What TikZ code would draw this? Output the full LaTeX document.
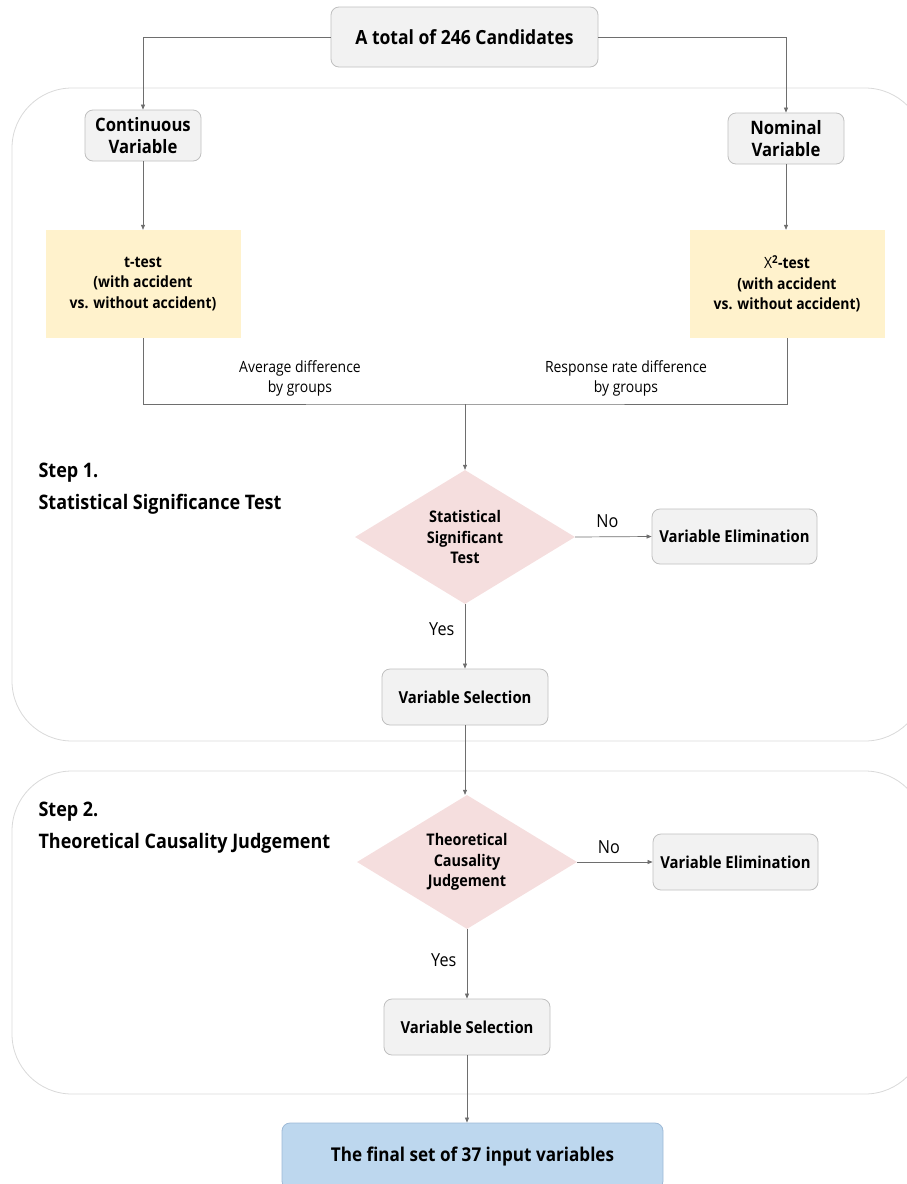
\documentclass[tikz,border=0pt]{standalone}
\usepackage{fontspec}
\setmainfont{Open Sans}[FakeStretch=0.9]
\usetikzlibrary{arrows.meta,shapes.geometric}
\definecolor{boxfill}{HTML}{F2F2F2}
\definecolor{boxline}{HTML}{BFBFBF}
\definecolor{testfill}{HTML}{FFF2CC}
\definecolor{decfill}{HTML}{F5DEDE}
\definecolor{finalfill}{HTML}{BDD7EE}
\definecolor{finalline}{HTML}{9DB9D6}
\definecolor{frameline}{HTML}{D9D9D9}
\definecolor{wire}{HTML}{6E6E6E}
\begin{document}
\begin{tikzpicture}[x=1pt,y=1pt,
  box/.style={draw=boxline, fill=boxfill, rounded corners=8pt, line width=0.8pt,
    align=center, inner sep=0pt},
  testbox/.style={fill=testfill, align=center, inner sep=0pt,
    minimum width=195pt, minimum height=108pt,
    font=\fontsize{15.5}{20.5}\selectfont\bfseries},
  decision/.style={shape=diamond, fill=decfill, aspect=1.64, inner sep=0pt,
    minimum width=220pt, minimum height=134pt, align=center,
    font=\fontsize{16}{20.5}\selectfont\bfseries},
  frame/.style={draw=frameline, line width=0.8pt, rounded corners=60pt},
  line/.style={draw=wire, line width=0.7pt},
  conn/.style={line, -{Triangle[length=5pt,width=4pt]}},
  note/.style={align=center, font=\fontsize{15.5}{20}\selectfont},
  answer/.style={font=\fontsize{18}{20}\selectfont},
  steplabel/.style={anchor=base west, align=left,
    font=\fontsize{20}{32}\selectfont\bfseries},
]
\clip (0,0) rectangle (907,-1184);

% step frames
\path[frame] (12,-88) rectangle (925,-741);
\path[frame] (12,-771) rectangle (925,-1094);

% nodes
\node[box, minimum width=267pt, minimum height=60pt,
  font=\fontsize{19.5}{23}\selectfont\bfseries] (top) at (464.5,-37) {A total of 246 Candidates};
\node[box, minimum width=116pt, minimum height=51pt,
  font=\fontsize{18.5}{22}\selectfont\bfseries] (cont) at (143,-135.5) {Continuous\\Variable};
\node[box, minimum width=116pt, minimum height=51pt,
  font=\fontsize{18.5}{22}\selectfont\bfseries] (nom) at (786,-138.5) {Nominal\\Variable};

\node[testbox] (ttest) at (143,-284) {t-test\\(with accident\\vs. without accident)};
\node[testbox] (chi) at (787,-284) {\textmd{X}\textsuperscript{2}-test\\(with accident\\vs. without accident)};

\node[note] (avg) at (300,-378) {Average difference\\by groups};
\node[note] (resp) at (626,-378) {Response rate difference\\by groups};
\coordinate (join) at (465,-404);

% the base anchor sits on the last line
\node[steplabel] (step1) at (35,-509) {Step 1.\\Statistical Significance Test};
\node[decision] (d1) at (465,-537) {Statistical\\Significant\\Test};
\node[box, minimum width=165pt, minimum height=55pt,
  font=\fontsize{16.5}{20}\selectfont\bfseries] (ve1) at (734.5,-536.5) {Variable Elimination};
\node[box, minimum width=166pt, minimum height=56pt,
  font=\fontsize{16.5}{20}\selectfont\bfseries] (vs1) at (465,-697) {Variable Selection};

\node[steplabel] (step2) at (35,-848) {Step 2.\\Theoretical Causality Judgement};
\node[decision] (d2) at (467,-862) {Theoretical\\Causality\\Judgement};
\node[box, minimum width=165pt, minimum height=56pt,
  font=\fontsize{16.5}{20}\selectfont\bfseries] (ve2) at (735.5,-862) {Variable Elimination};
\node[box, minimum width=166pt, minimum height=56pt,
  font=\fontsize{16.5}{20}\selectfont\bfseries] (vs2) at (467,-1027) {Variable Selection};

\node[draw=finalline, fill=finalfill, rounded corners=8pt, line width=0.8pt,
  minimum width=381pt, minimum height=66pt, inner sep=0pt,
  font=\fontsize{19}{23}\selectfont\bfseries] (final) at (472.5,-1156) {The final set of 37 input variables};

% connectors
\draw[conn] (top.west) -| (cont.north);
\draw[conn] (top.east) -| (nom.north);
\draw[conn] (cont.south) -- (cont.south |- ttest.north);
\draw[conn] (nom.south) -- (nom.south |- chi.north);
\draw[line] (ttest.south) |- (join) -| (chi.south);
\draw[conn] (join) -- (d1.north);

\draw[conn] (d1.east) -- (ve1.west) node[answer, pos=0.42, above=5pt] (no1) {No};
\draw[conn] (d1.south) -- (vs1.north) node[answer, pos=0.38, left=7pt] (yes1) {Yes};
\draw[conn] (vs1.south) -- (vs1.south |- d2.north);

\draw[conn] (d2.east) -- (ve2.west) node[answer, pos=0.42, above=5pt] (no2) {No};
\draw[conn] (d2.south) -- (vs2.north) node[answer, pos=0.45, left=7pt] (yes2) {Yes};
\draw[conn] (vs2.south) -- (vs2.south |- final.north);
\end{tikzpicture}
\end{document}
